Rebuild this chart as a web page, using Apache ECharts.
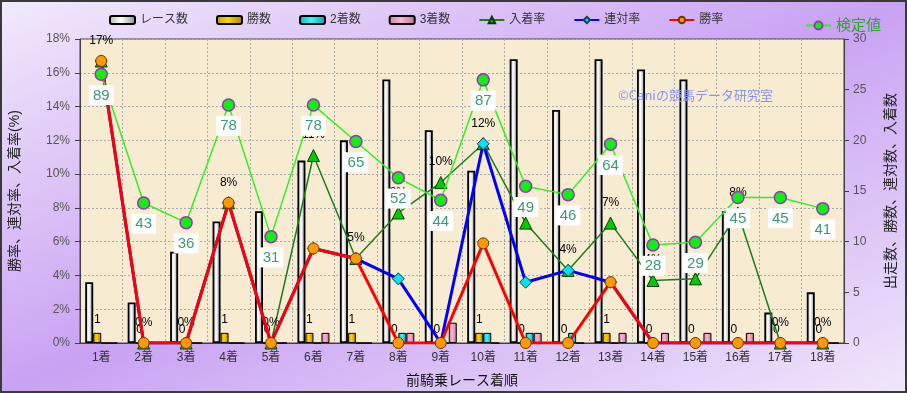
<!DOCTYPE html>
<html><head><meta charset="utf-8">
<script src="https://cdn.jsdelivr.net/npm/echarts@6/dist/echarts.min.js"></script>
<style>
html,body{margin:0;padding:0;}
#c{width:907px;height:393px;background:linear-gradient(to bottom right,#f2eafb 0%,#c9a2f3 50%,#f0e7fb 100%);}
</style>
</head><body><div id="c"></div>
<script>
const categories = ['1着','2着','3着','4着','5着','6着','7着','8着','9着','10着','11着','12着','13着','14着','15着','16着','17着','18着'];
const raceCounts = [6,4,9,12,13,18,20,26,21,17,28,23,28,27,26,13,3,5];
const winCounts = [1,0,0,1,0,1,1,0,0,1,0,0,1,0,0,0,0,0];
const secondCounts = [0,0,0,0,0,0,0,1,0,1,1,1,0,0,0,0,0,0];
const thirdCounts = [0,0,0,0,0,1,0,1,2,0,1,0,1,1,1,1,0,0];
const placeRate = [16.7,0,0,8.3,0,11.1,5.0,7.7,9.5,11.8,7.1,4.3,7.1,3.7,3.8,7.7,0,0];
const rentaiRate = [16.7,0,0,8.3,0,5.6,5.0,3.8,0,11.8,3.6,4.3,3.6,0,0,0,0,0];
const winRate = [16.7,0,0,8.3,0,5.6,5.0,0,0,5.9,0,0,3.6,0,0,0,0,0];
const testValues = [89,43,36,78,31,78,65,52,44,87,49,46,64,28,29,45,45,41];
const leftTicks = {min:0, max:18, interval:2};
const rightTicks = {min:0, max:30, interval:5};

const JP = '"Liberation Sans","Noto Sans CJK JP",sans-serif';
function grad(a,b,c){return {type:'linear',x:0,y:0,x2:1,y2:0,colorStops:[{offset:0,color:a},{offset:0.45,color:b},{offset:1,color:c}]};}

const chart = echarts.init(document.getElementById('c'), null, {renderer:'canvas'});
chart.setOption({
  backgroundColor:'transparent',
  textStyle:{fontFamily:JP},
  animation:false,
  legend:[{
    left:104, top:9, itemWidth:25, itemHeight:8, itemGap:28,
    textStyle:{fontSize:12,color:'#333',fontFamily:JP},
    data:['レース数','勝数','2着数','3着数','入着率','連対率','勝率']
  },{
    left:800, top:13, itemWidth:25, itemHeight:10,
    textStyle:{fontSize:15,color:'#22aa22',fontFamily:JP},
    data:['検定値']
  }],
  grid:{left:80,right:63,top:39,bottom:50,show:true,backgroundColor:'#f7ebd2',borderColor:'#404040',borderWidth:1},
  xAxis:{
    type:'category', data:categories, boundaryGap:true,
    axisLine:{lineStyle:{color:'#404040'}},
    axisTick:{show:false},
    axisLabel:{color:'#333',fontSize:12,margin:9,fontFamily:JP},
    splitLine:{show:true,lineStyle:{type:[2,2],color:'#a8a8a8'}},
    name:'前騎乗レース着順', nameLocation:'middle', nameGap:31,
    nameTextStyle:{fontSize:14,color:'#111',fontFamily:JP}
  },
  yAxis:[{
    type:'value', position:'left', min:leftTicks.min, max:leftTicks.max, interval:leftTicks.interval,
    name:'勝率、連対率、入着率(%)', nameLocation:'middle', nameGap:58, nameRotate:90,
    nameTextStyle:{fontSize:14,color:'#222',fontFamily:JP},
    axisLine:{show:true,lineStyle:{color:'#404040'}},
    axisTick:{show:true,length:5,lineStyle:{color:'#404040'}},
    axisLabel:{formatter:'{value}%',color:'#555',fontSize:12,margin:10},
    splitLine:{show:true,lineStyle:{type:[2,2],color:'#a8a8a8'}}
  },{
    type:'value', position:'right', min:rightTicks.min, max:rightTicks.max, interval:rightTicks.interval,
    name:'出走数、勝数、連対数、入着数', nameLocation:'middle', nameGap:40, nameRotate:90,
    nameTextStyle:{fontSize:14,color:'#222',fontFamily:JP},
    axisLine:{show:true,lineStyle:{color:'#404040'}},
    axisTick:{show:true,length:5,lineStyle:{color:'#404040'}},
    axisLabel:{color:'#555',fontSize:12,margin:9},
    splitLine:{show:false}
  },{
    type:'value', show:false, min:-7, max:101.6
  }],
  graphic:[{
    type:'text', left:618, top:89, z:3,
    style:{text:'©Caniの競馬データ研究室', fill:'#8a94f0', font:'13px "Noto Sans CJK JP"'}
  },{
    type:'rect', shape:{x:1,y:1,width:905,height:391}, z:200, silent:true,
    style:{fill:'none',stroke:'#3a3a3a',lineWidth:2}
  }],
  series:[
    {name:'レース数',type:'bar',yAxisIndex:1,data:raceCounts,barWidth:8,barGap:'0%',z:2,
      itemStyle:{color:grad('#b4b4b4','#ffffff','#8c8c8c'),borderColor:'#000',borderWidth:1.8}},
    {name:'勝数',type:'bar',yAxisIndex:1,data:winCounts,barWidth:8,barGap:'0%',z:2,
      itemStyle:{color:grad('#c89a00','#ffd200','#a87e00'),borderColor:'#000',borderWidth:1},
      label:{show:true,position:'top',distance:7,color:'#000',fontSize:12,fontFamily:JP}},
    {name:'2着数',type:'bar',yAxisIndex:1,data:secondCounts,barWidth:8,barGap:'0%',z:2,
      itemStyle:{color:grad('#00b4c4','#40f4fc','#00a0b0'),borderColor:'#000',borderWidth:1}},
    {name:'3着数',type:'bar',yAxisIndex:1,data:thirdCounts,barWidth:8,barGap:'0%',z:2,
      itemStyle:{color:grad('#d084a4','#f8b4d0','#b87094'),borderColor:'#000',borderWidth:1}},
    {name:'入着率',type:'line',yAxisIndex:0,data:placeRate,z:4,
      lineStyle:{color:'#1d7d1d',width:1.5},
      symbol:'triangle',symbolSize:12,
      itemStyle:{color:'#00cc00',borderColor:'#0a3a0a',borderWidth:1},
      label:{show:true,position:'top',distance:8,color:'#000',fontSize:12,fontFamily:JP,
        formatter:p=>Math.round(p.value)+'%'}},
    {name:'連対率',type:'line',yAxisIndex:0,data:rentaiRate,z:5,
      lineStyle:{color:'#0000ff',width:3},
      symbol:'diamond',symbolSize:12,
      itemStyle:{color:'#00e4f0',borderColor:'#104050',borderWidth:1}},
    {name:'勝率',type:'line',yAxisIndex:0,data:winRate,z:6,
      lineStyle:{color:'#ff0000',width:3},
      symbol:'circle',symbolSize:11,
      itemStyle:{color:'#ff9900',borderColor:'#6a3a00',borderWidth:1}},
    {name:'検定値',type:'line',yAxisIndex:2,data:testValues,z:8,
      lineStyle:{color:'#33ee22',width:1.5},
      symbol:'circle',symbolSize:12,
      itemStyle:{color:'#11ee11',borderColor:'#9933bb',borderWidth:1.5},
      label:{show:true,position:'bottom',distance:4,color:'#3a9a78',fontSize:15,
        fontFamily:'"Liberation Sans",Arial,sans-serif',backgroundColor:'#ffffff',padding:[3,4,2,4]}}
  ]
});
</script></body></html>
